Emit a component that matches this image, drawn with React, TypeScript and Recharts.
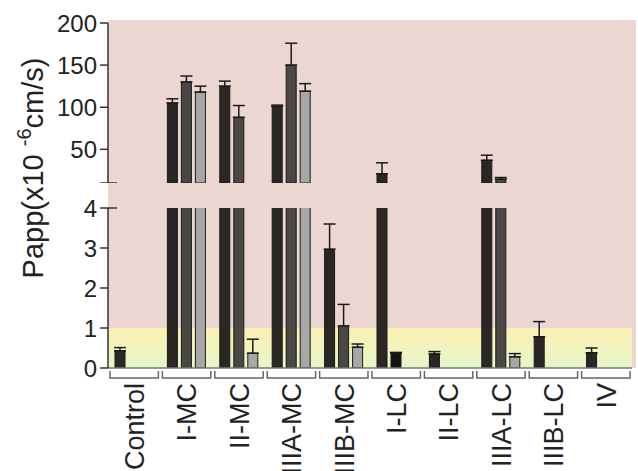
import { Bar, BarChart, ErrorBar, ReferenceArea, XAxis, YAxis, Cell } from "recharts"

const categories = ["Control", "I-MC", "II-MC", "IIIA-MC", "IIIB-MC", "I-LC", "II-LC", "IIIA-LC", "IIIB-LC", "IV"]

// three series, null = not measured
const seriesA = [0.43, 105, 125, 101, 2.97, 21, 0.35, 37, 0.78, 0.38]
const errA = [0.08, 5, 6, 1.5, 0.63, 13, 0.06, 6, 0.38, 0.12]
const seriesB = [null, 130, 88, 150, 1.05, 0.37, null, 14.5, null, null]
const errB = [null, 7, 14, 26, 0.54, 0.02, null, 2, null, null]
const seriesC = [null, 118, 0.37, 119, 0.52, null, null, 0.28, null, null]
const errC = [null, 7, 0.35, 9, 0.08, null, null, 0.08, null, null]

const lowerTicks = [0, 1, 2, 3, 4]
const upperTicks = [10, 50, 100, 150, 200]
const lowerMax = 4
const upperMin = 10
const upperMax = 200

const BLACK = "#2a2623"
const DARK = "#4a4745"
const LIGHT = "#a7a7a7"
const EDGE = "#1c1a18"
const FONT = "'Liberation Sans', Arial, sans-serif"

type Val = number | null

function pick(v: Val, e: Val, upper: boolean) {
  if (v == null) return { v: null, e: null }
  if (upper) {
    return v >= upperMin ? { v, e: e == null ? null : [0, e] } : { v: null, e: null }
  }
  return v <= lowerMax ? { v, e: e == null ? null : [0, e] } : { v, e: null }
}

function buildData(upper: boolean) {
  return categories.map((name, i) => {
    const a = pick(seriesA[i], errA[i], upper)
    const b = pick(seriesB[i], errB[i], upper)
    const c = pick(seriesC[i], errC[i], upper)
    return { name, a: a.v, ea: a.e, b: b.v, eb: b.e, c: c.v, ec: c.e }
  })
}

const upperData = buildData(true)
const lowerData = buildData(false)

// y tick: short tick outside, a crossing mark at the axis break
function YTick(props: any) {
  const { x, y, payload, breakAt, showBreakLabel } = props
  const ax = x + 11
  const isBreak = payload.value === breakAt
  return (
    <g>
      <line x1={ax - 8} x2={isBreak ? ax + 9 : ax} y1={y} y2={y} stroke="#333" strokeWidth={1.5} />
      {(!isBreak || showBreakLabel) && (
        <text x={x} y={y} dy="0.36em" textAnchor="end" fontSize={24} fill="#222" fontFamily={FONT}>
          {payload.value}
        </text>
      )}
    </g>
  )
}

function XTick(props: any) {
  const { x, y, payload } = props
  const half = payload.offset || 26
  const l = x - half + 2
  const r = x + half - 2
  return (
    <g>
      <path d={`M${l},${y + 3} V${y + 10} H${r} V${y + 3}`} fill="none" stroke="#666" strokeWidth={1.5} />
      <text
        x={x}
        y={y + 15}
        dy="0.36em"
        textAnchor="end"
        fontSize={27}
        fill="#222"
        fontFamily={FONT}
        transform={`rotate(-90, ${x}, ${y + 15})`}
      >
        {payload.value}
      </text>
    </g>
  )
}

export default function App() {
  const barProps = { isAnimationActive: false, stroke: EDGE, strokeWidth: 1 }
  const err = { stroke: EDGE, strokeWidth: 1.5, width: 6 }
  return (
    <div style={{ position: "fixed", left: 0, top: 0, width: 638, height: 471, background: "#fff", fontFamily: FONT }}>
      <div style={{ position: "absolute", left: 108, top: 20, width: 528, height: 348, background: "#ebd6d1" }} />

      <div style={{ position: "absolute", left: 0, top: 0 }}>
        <BarChart width={638} height={183} data={upperData} margin={{ top: 23, right: 6, left: 0, bottom: 0 }} barSize={10} barGap={4}>
          <XAxis dataKey="name" hide />
          <YAxis
            width={108}
            domain={[upperMin, upperMax]}
            allowDataOverflow
            ticks={upperTicks}
            interval={0}
            tickLine={false}
            tickSize={8}
            tickMargin={3}
            axisLine={{ stroke: "#333", strokeWidth: 1.5 }}
            tick={<YTick breakAt={upperMin} showBreakLabel={false} />}
          />
          <Bar dataKey="a" fill={BLACK} {...barProps}>
            <ErrorBar dataKey="ea" {...err} />
          </Bar>
          <Bar dataKey="b" fill={DARK} {...barProps}>
            <ErrorBar dataKey="eb" {...err} />
          </Bar>
          <Bar dataKey="c" fill={LIGHT} {...barProps}>
            <ErrorBar dataKey="ec" {...err} />
          </Bar>
        </BarChart>
      </div>

      <div style={{ position: "absolute", left: 0, top: 0 }}>
        <BarChart width={638} height={471} data={lowerData} margin={{ top: 208, right: 6, left: 0, bottom: 0 }} barSize={10} barGap={4}>
          <defs>
            <linearGradient id="yg" x1="0" y1="0" x2="0" y2="1">
              <stop offset="0%" stopColor="#f9f1b2" />
              <stop offset="40%" stopColor="#f4f3bb" />
              <stop offset="100%" stopColor="#e5f6cb" />
            </linearGradient>
          </defs>
          <ReferenceArea y1={0} y2={1} fill="url(#yg)" fillOpacity={1} stroke="none" ifOverflow="visible" />
          <XAxis
            dataKey="name"
            height={103}
            interval={0}
            tickLine={false}
            tickSize={0}
            tickMargin={0}
            axisLine={{ stroke: "#777", strokeWidth: 1.5 }}
            tick={<XTick />}
          />
          <YAxis
            width={108}
            domain={[0, lowerMax]}
            allowDataOverflow
            ticks={lowerTicks}
            interval={0}
            tickLine={false}
            tickSize={8}
            tickMargin={3}
            axisLine={{ stroke: "#333", strokeWidth: 1.5 }}
            tick={<YTick breakAt={lowerMax} showBreakLabel={true} />}
          />
          <Bar dataKey="a" fill={BLACK} {...barProps}>
            <ErrorBar dataKey="ea" {...err} />
          </Bar>
          <Bar dataKey="b" fill={DARK} {...barProps}>
            {lowerData.map((d) => (
              <Cell key={d.name} fill={d.name === "I-LC" ? "#151311" : DARK} />
            ))}
            <ErrorBar dataKey="eb" {...err} />
          </Bar>
          <Bar dataKey="c" fill={LIGHT} {...barProps}>
            <ErrorBar dataKey="ec" {...err} />
          </Bar>
        </BarChart>
      </div>

      <svg width={638} height={471} style={{ position: "absolute", left: 0, top: 0, pointerEvents: "none" }}>
        <text transform="translate(43,168) rotate(-90)" textAnchor="middle" fontSize={29} fill="#222" fontFamily={FONT}>
          Papp(x10{" "}
          <tspan fontSize={20} dy={-12}>
            -6
          </tspan>
          <tspan dy={12}>cm/s)</tspan>
        </text>
      </svg>
    </div>
  )
}
